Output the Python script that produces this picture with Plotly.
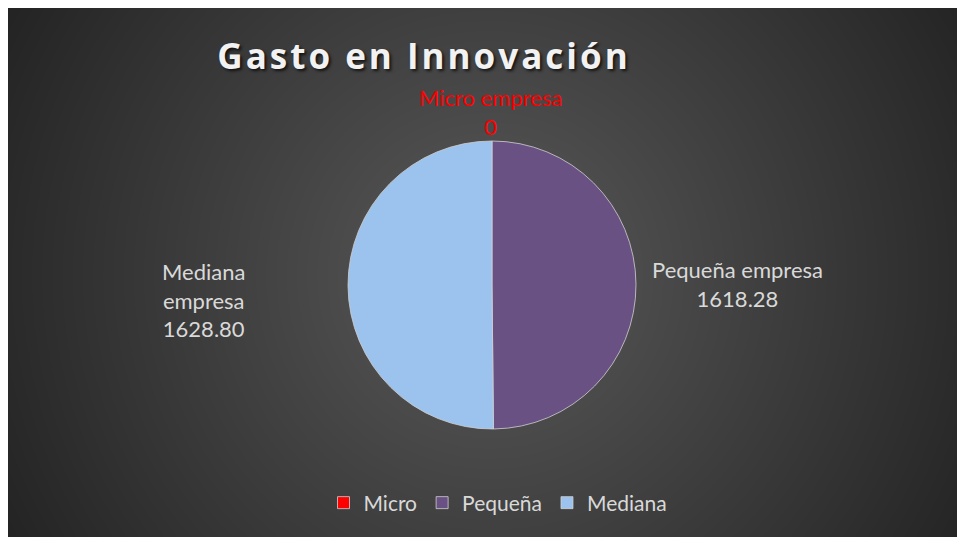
import base64, struct, zlib
import numpy as np
import plotly.graph_objects as go

# ---- data ----
legend_names = ["Micro", "Pequeña", "Mediana"]
label_names = ["Micro empresa", "Pequeña empresa", "Mediana<br>empresa"]
values = [0, 1618.28, 1628.80]
value_text = ["0", "1618.28", "1628.80"]
colors = ["#ff0000", "#6a5184", "#9cc2ee"]
label_colors = ["#ff0000", "#d9d9d9", "#d9d9d9"]
title_text = "Gasto en Innovación"

W, H = 965, 537
OX, OY = 8, 8  # page offset of the figure (body margin)
def px(x):
    return (x - OX) / W
def py(y):
    return 1 - (y - OY) / H

# ---- radial gradient background image (PNG, built in memory) ----
bw, bh = W, H
yy, xx = np.mgrid[0:bh, 0:bw]
cx, cy = 490 - OX, 275 - OY
r = np.sqrt((xx - cx) ** 2 + (yy - cy) ** 2)
g = np.clip(90 - 54 * (r / 550.0), 34, 95).astype(np.uint8)
raw = b"".join(b"\x00" + g[i].tobytes() for i in range(bh))
def chunk(t, d):
    c = struct.pack(">I", len(d)) + t + d
    return c + struct.pack(">I", zlib.crc32(t + d) & 0xffffffff)
png = b"\x89PNG\r\n\x1a\n" + chunk(b"IHDR", struct.pack(">IIBBBBB", bw, bh, 8, 0, 0, 0, 0)) \
    + chunk(b"IDAT", zlib.compress(raw, 9)) + chunk(b"IEND", b"")
uri = "data:image/png;base64," + base64.b64encode(png).decode()

# ---- pie ----
pcx, pcy, pr = 492, 285, 144
fig = go.Figure(go.Pie(
    labels=legend_names, values=values, sort=False, direction="clockwise", rotation=0,
    marker=dict(colors=colors, line=dict(color="#d0d0d0", width=0.8)),
    textinfo="none", hoverinfo="label+value",
    domain=dict(x=[px(pcx - pr), px(pcx + pr)], y=[py(pcy + pr), py(pcy - pr)]),
))

label_pos = [(490, 112), (737, 284), (203, 300)]
for name, vt, col, (lx, ly) in zip(label_names, value_text, label_colors, label_pos):
    fig.add_annotation(text=f"{name}<br>{vt}", x=px(lx), y=py(ly), xref="paper", yref="paper",
                       xanchor="center", yanchor="middle", showarrow=False, align="center",
                       font=dict(family="Lato", size=22, color=col))

fig.update_layout(
    width=W, height=H, margin=dict(l=0, r=0, t=0, b=0),
    paper_bgcolor="#262626", plot_bgcolor="#262626",
    images=[dict(source=uri, xref="paper", yref="paper", x=0, y=1,
                 sizex=1, sizey=1, sizing="stretch", xanchor="left", yanchor="top",
                 layer="below")],
    title=dict(text=f'<span style="letter-spacing:3px">{title_text}</span>',
               x=px(424), y=py(57), xanchor="center", yanchor="middle",
               font=dict(family="Open Sans", size=35, weight=700, color="#f2f2f2",
                         shadow="2px 2px 3px rgba(0,0,0,0.7)")),
    showlegend=True,
    legend=dict(orientation="h", x=px(498), y=py(503), xanchor="center", yanchor="middle",
                font=dict(family="Lato", size=21, color="#d9d9d9"), bgcolor="rgba(0,0,0,0)",
                itemwidth=30),
)

fig.write_html("out.html")
